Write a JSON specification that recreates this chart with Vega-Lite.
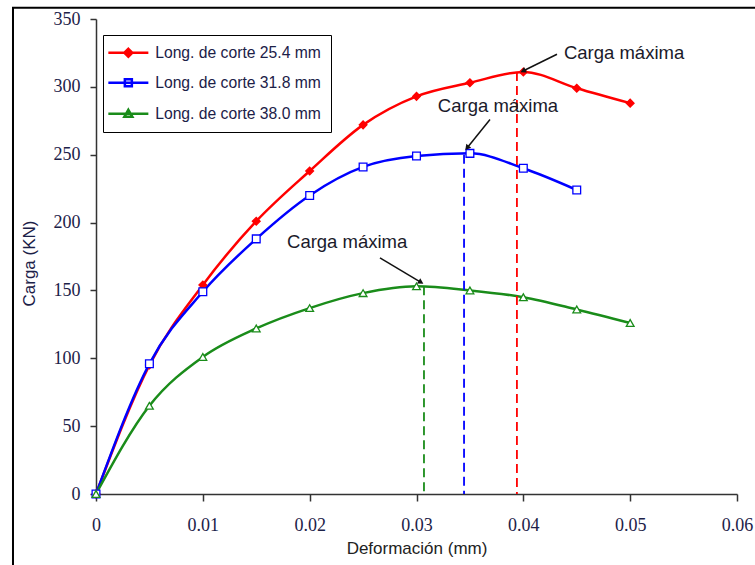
{
  "$schema": "https://vega.github.io/schema/vega-lite/v6.json",
  "width": 641,
  "height": 475,
  "autosize": "none",
  "padding": {"left": 96, "top": 19, "right": 18, "bottom": 71},
  "background": "white",
  "config": {"view": {"stroke": null}, "axis": {"grid": false}},
  "datasets": {
    "curves": [
      {"series": "Long. de corte 25.4 mm", "x": 0, "y": 0},
      {"series": "Long. de corte 25.4 mm", "x": 0.005, "y": 95},
      {"series": "Long. de corte 25.4 mm", "x": 0.01, "y": 154},
      {"series": "Long. de corte 25.4 mm", "x": 0.015, "y": 201},
      {"series": "Long. de corte 25.4 mm", "x": 0.02, "y": 238},
      {"series": "Long. de corte 25.4 mm", "x": 0.025, "y": 272},
      {"series": "Long. de corte 25.4 mm", "x": 0.03, "y": 293},
      {"series": "Long. de corte 25.4 mm", "x": 0.035, "y": 303},
      {"series": "Long. de corte 25.4 mm", "x": 0.04, "y": 311},
      {"series": "Long. de corte 25.4 mm", "x": 0.045, "y": 299},
      {"series": "Long. de corte 25.4 mm", "x": 0.05, "y": 288},
      {"series": "Long. de corte 31.8 mm", "x": 0, "y": 0},
      {"series": "Long. de corte 31.8 mm", "x": 0.005, "y": 96},
      {"series": "Long. de corte 31.8 mm", "x": 0.01, "y": 149},
      {"series": "Long. de corte 31.8 mm", "x": 0.015, "y": 188},
      {"series": "Long. de corte 31.8 mm", "x": 0.02, "y": 220},
      {"series": "Long. de corte 31.8 mm", "x": 0.025, "y": 241},
      {"series": "Long. de corte 31.8 mm", "x": 0.03, "y": 249},
      {"series": "Long. de corte 31.8 mm", "x": 0.035, "y": 251},
      {"series": "Long. de corte 31.8 mm", "x": 0.04, "y": 240},
      {"series": "Long. de corte 31.8 mm", "x": 0.045, "y": 224},
      {"series": "Long. de corte 38.0 mm", "x": 0, "y": 0},
      {"series": "Long. de corte 38.0 mm", "x": 0.005, "y": 65},
      {"series": "Long. de corte 38.0 mm", "x": 0.01, "y": 101},
      {"series": "Long. de corte 38.0 mm", "x": 0.015, "y": 122},
      {"series": "Long. de corte 38.0 mm", "x": 0.02, "y": 137},
      {"series": "Long. de corte 38.0 mm", "x": 0.025, "y": 148},
      {"series": "Long. de corte 38.0 mm", "x": 0.03, "y": 153},
      {"series": "Long. de corte 38.0 mm", "x": 0.035, "y": 150},
      {"series": "Long. de corte 38.0 mm", "x": 0.04, "y": 145},
      {"series": "Long. de corte 38.0 mm", "x": 0.045, "y": 136},
      {"series": "Long. de corte 38.0 mm", "x": 0.05, "y": 126}
    ],
    "peaks": [
      {"series": "Long. de corte 25.4 mm", "x": 0.0394, "y": 311},
      {"series": "Long. de corte 31.8 mm", "x": 0.03445, "y": 250},
      {"series": "Long. de corte 38.0 mm", "x": 0.0307, "y": 153}
    ],
    "arrows": [
      {"series": "Long. de corte 25.4 mm", "x": 0.04315, "y": 324, "x2": 0.03997, "y2": 311.7},
      {"series": "Long. de corte 31.8 mm", "x": 0.03688, "y": 276, "x2": 0.03473, "y2": 255},
      {"series": "Long. de corte 38.0 mm", "x": 0.02658, "y": 174, "x2": 0.03042, "y2": 156}
    ],
    "notes": [
      {"x": 0.0438, "y": 325.2, "label": "Carga máxima"},
      {"x": 0.032, "y": 286, "label": "Carga máxima"},
      {"x": 0.01788, "y": 185.9, "label": "Carga máxima"}
    ]
  },
  "layer": [
    {
      "data": {"values": [{}]},
      "mark": {"type": "rect", "fill": "transparent", "stroke": "black", "strokeWidth": 2},
      "encoding": {
        "x": {"datum": -0.00777, "type": "quantitative", "scale": {"domain": [0, 0.06], "nice": false}},
        "x2": {"datum": 0.075},
        "y": {"datum": 358.3, "type": "quantitative", "scale": {"domain": [0, 350], "nice": false}},
        "y2": {"datum": -80}
      }
    },
    {
      "data": {"name": "curves"},
      "mark": {"type": "line", "strokeWidth": 2.5, "interpolate": "monotone"},
      "encoding": {
        "x": {"field": "x", "type": "quantitative", "scale": {"domain": [0, 0.06], "nice": false},
          "axis": {"values": [0, 0.01, 0.02, 0.03, 0.04, 0.05, 0.06], "format": "~g", "labelFlush": false,
            "labelFont": "Liberation Serif", "labelFontSize": 18, "labelColor": "#1c2148",
            "tickSize": 7, "tickWidth": 1.5, "tickColor": "#333", "domainColor": "#333", "domainWidth": 1.5,
            "labelPadding": 15, "title": "Deformación (mm)", "titleFont": "Liberation Sans", "titleFontSize": 17,
            "titleFontWeight": "normal", "titleColor": "#222", "titlePadding": 6}},
        "y": {"field": "y", "type": "quantitative", "scale": {"domain": [0, 350], "nice": false},
          "axis": {"values": [0, 50, 100, 150, 200, 250, 300, 350],
            "labelFont": "Liberation Serif", "labelFontSize": 18, "labelColor": "#1c2148",
            "tickSize": 6, "tickWidth": 1.5, "tickColor": "#333", "domainColor": "#333", "domainWidth": 1.5,
            "labelPadding": 10, "title": "Carga (KN)", "titleFont": "Liberation Sans", "titleFontSize": 17,
            "titleFontWeight": "normal", "titleColor": "#1c2148", "titlePadding": 15, "titleY": 244}},
        "color": {"field": "series", "type": "nominal",
          "scale": {"domain": ["Long. de corte 25.4 mm", "Long. de corte 31.8 mm", "Long. de corte 38.0 mm"],
            "range": ["#ff0000", "#0000ff", "#1a8c1a"]},
          "legend": {"orient": "none", "legendX": 7, "legendY": 16, "title": null, "padding": 10,
            "strokeColor": "black", "fillColor": "white", "symbolSize": 100, "symbolStrokeWidth": 2.5,
            "symbolOffset": 7.5, "labelOffset": 19, "rowPadding": 12, "labelFont": "Liberation Sans",
            "labelFontSize": 15.7, "labelColor": "#1c2148", "labelLimit": 400,
            "encoding": {"symbols": {
              "shape": {"condition": [
                {"test": "indexof(datum.value, '25.4') >= 0", "value": "M-4,0H4M0,-0.8L0.8,0L0,0.8L-0.8,0Z"},
                {"test": "indexof(datum.value, '31.8') >= 0", "value": "M-4,0H4M-0.7,-0.7H0.7V0.7H-0.7Z"}],
                "value": "M-4,0H4M0,-0.8L0.8,0.6H-0.8Z"},
              "fill": {"condition": {"test": "indexof(datum.value, '25.4') >= 0", "value": "#ff0000"}, "value": "white"},
              "strokeWidth": {"value": 2.5}
            }}}
        }
      }
    },
    {
      "data": {"name": "peaks"},
      "mark": {"type": "rule", "strokeWidth": 1.8, "strokeDash": [9, 5]},
      "encoding": {
        "x": {"field": "x", "type": "quantitative"},
        "y": {"field": "y", "type": "quantitative"},
        "y2": {"datum": 0},
        "color": {"field": "series", "type": "nominal"}
      }
    },
    {
      "data": {"name": "curves"},
      "mark": {"type": "point", "filled": false, "opacity": 1, "size": 60, "strokeWidth": 1.3},
      "encoding": {
        "x": {"field": "x", "type": "quantitative"},
        "y": {"field": "y", "type": "quantitative"},
        "color": {"field": "series", "type": "nominal"},
        "shape": {"field": "series", "type": "nominal", "legend": null,
          "scale": {"range": ["diamond", "square", "triangle-up"]}},
        "fill": {"field": "series", "type": "nominal", "legend": null,
          "scale": {"range": ["#ff0000", "white", "white"]}}
      }
    },
    {
      "data": {"name": "arrows"},
      "mark": {"type": "rule", "color": "#111", "strokeWidth": 1.5},
      "encoding": {
        "x": {"field": "x", "type": "quantitative"},
        "y": {"field": "y", "type": "quantitative"},
        "x2": {"field": "x2"},
        "y2": {"field": "y2"}
      }
    },
    {
      "data": {"name": "arrows"},
      "transform": [{"filter": "datum.series == 'Long. de corte 25.4 mm'"}],
      "mark": {"type": "point", "shape": "triangle-up", "filled": true, "color": "#111", "opacity": 1, "size": 40, "angle": 244},
      "encoding": {"x": {"field": "x2", "type": "quantitative"}, "y": {"field": "y2", "type": "quantitative"}}
    },
    {
      "data": {"name": "arrows"},
      "transform": [{"filter": "datum.series == 'Long. de corte 31.8 mm'"}],
      "mark": {"type": "point", "shape": "triangle-up", "filled": true, "color": "#111", "opacity": 1, "size": 40, "angle": 219},
      "encoding": {"x": {"field": "x2", "type": "quantitative"}, "y": {"field": "y2", "type": "quantitative"}}
    },
    {
      "data": {"name": "arrows"},
      "transform": [{"filter": "datum.series == 'Long. de corte 38.0 mm'"}],
      "mark": {"type": "point", "shape": "triangle-up", "filled": true, "color": "#111", "opacity": 1, "size": 40, "angle": 121},
      "encoding": {"x": {"field": "x2", "type": "quantitative"}, "y": {"field": "y2", "type": "quantitative"}}
    },
    {
      "data": {"name": "notes"},
      "mark": {"type": "text", "align": "left", "baseline": "middle", "font": "Liberation Sans", "fontSize": 18.5, "color": "#1a1a2a"},
      "encoding": {
        "x": {"field": "x", "type": "quantitative"},
        "y": {"field": "y", "type": "quantitative"},
        "text": {"field": "label"}
      }
    }
  ]
}
